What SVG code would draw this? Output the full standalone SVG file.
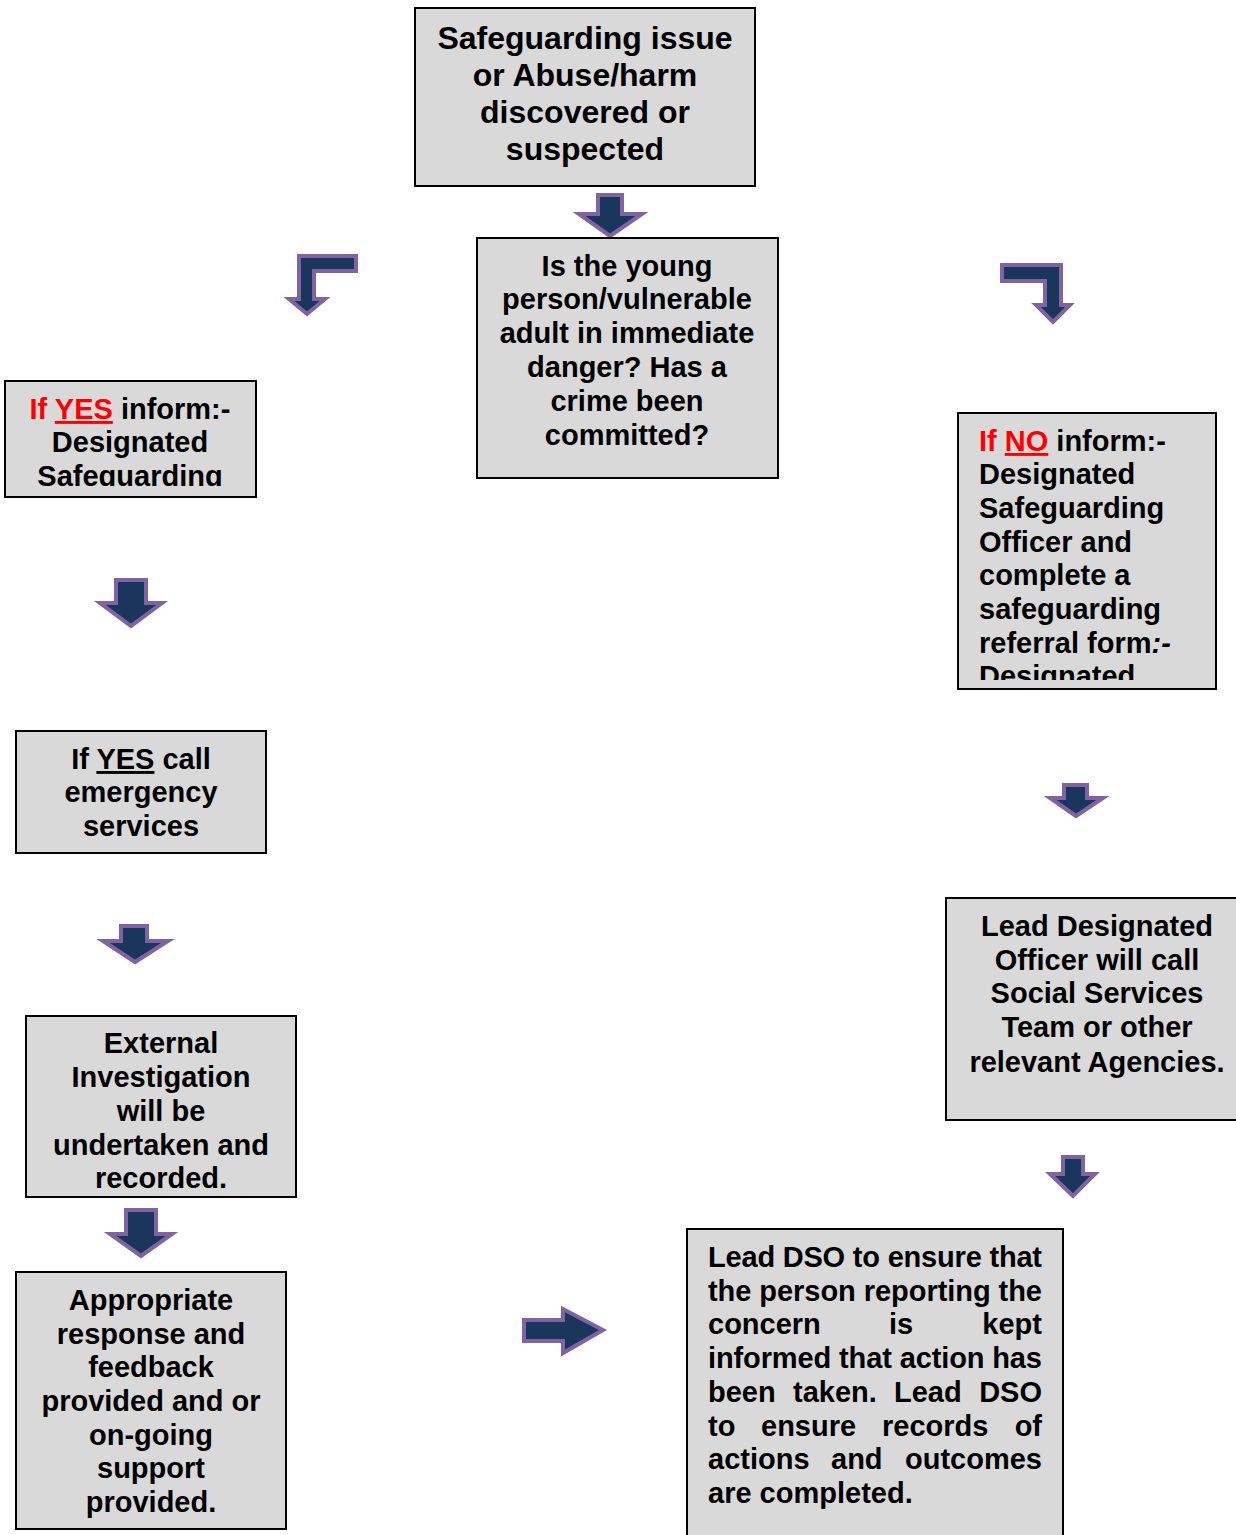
<svg xmlns="http://www.w3.org/2000/svg" width="1236" height="1535" viewBox="0 0 1236 1535">
<style>
.box{fill:#d9d9d9;stroke:#000;stroke-width:2}
.t{font-family:"Liberation Sans",Arial,sans-serif;font-weight:bold;font-size:29px;fill:#000}
.tc{text-anchor:middle}
.big{font-size:32px}
.red{fill:#ff0000}
.ar{fill:#1b365d;stroke:#8064a2;stroke-width:4;stroke-linejoin:miter}
</style>
<defs>
<clipPath id="cYes"><rect x="6" y="382" width="249" height="104"/></clipPath>
<clipPath id="cNo"><rect x="959" y="414" width="256" height="266"/></clipPath>
<clipPath id="cExt"><rect x="27" y="1017" width="268" height="173"/></clipPath>
</defs>
<rect width="1236" height="1535" fill="#fff"/>

<g id="connectors">
<path class="ar" d="M598,195 H622 V214 H642 L610,236 L579,214 H598 Z"/>
<path class="ar" d="M299,256 H356 V271 H314 V299 H325 L307,314 L289,299 H299 Z"/>
<path class="ar" d="M1002,265 H1061 V305 H1070 L1053,322 L1036,305 H1045 V281 H1002 Z"/>
<path class="ar" d="M116,580 H146 V603 H162 L131,626 L100,603 H116 Z"/>
<path class="ar" d="M121,926 H147 V941 H168 L135,962 L103,941 H121 Z"/>
<path class="ar" d="M1064,785 H1087 V798 H1103 L1076,816 L1050,798 H1064 Z"/>
<path class="ar" d="M1063,1157 H1083 V1174 H1095 L1073,1196 L1050,1174 H1063 Z"/>
<path class="ar" d="M126,1210 H156 V1234 H172 L141,1256 L110,1234 H126 Z"/>
<path class="ar" d="M524,1320 H563 V1309 L603,1330 L563,1353 V1341 H524 Z"/>
</g>

<g id="n1">
<rect class="box" x="415" y="8" width="340" height="178"/>
<text class="t tc big" x="585" y="49">Safeguarding issue</text>
<text class="t tc big" x="585" y="86">or Abuse/harm</text>
<text class="t tc big" x="585" y="123">discovered or</text>
<text class="t tc big" x="585" y="160">suspected</text>
</g>

<g id="n2">
<rect class="box" x="477" y="238" width="301" height="240"/>
<text class="t tc" x="627" y="276">Is the young</text>
<text class="t tc" x="627" y="309">person/vulnerable</text>
<text class="t tc" x="627" y="343">adult in immediate</text>
<text class="t tc" x="627" y="377">danger? Has a</text>
<text class="t tc" x="627" y="411">crime been</text>
<text class="t tc" x="627" y="445">committed?</text>
</g>

<g id="n3">
<rect class="box" x="5" y="381" width="251" height="116"/>
<g clip-path="url(#cYes)">
<text class="t tc" x="130" y="419"><tspan class="red">If </tspan><tspan class="red" text-decoration="underline">YES</tspan> inform:-</text>
<text class="t tc" x="130" y="452">Designated</text>
<text class="t tc" x="130" y="486">Safeguarding</text>
</g>
</g>

<g id="n4">
<rect class="box" x="958" y="413" width="258" height="276"/>
<g clip-path="url(#cNo)">
<text class="t" x="979" y="451"><tspan class="red">If </tspan><tspan class="red" text-decoration="underline">NO</tspan> inform:-</text>
<text class="t" x="979" y="484">Designated</text>
<text class="t" x="979" y="518">Safeguarding</text>
<text class="t" x="979" y="552">Officer and</text>
<text class="t" x="979" y="585">complete a</text>
<text class="t" x="979" y="619">safeguarding</text>
<text class="t" x="979" y="653">referral form<tspan font-style="italic">:-</tspan></text>
<text class="t" x="979" y="686">Designated</text>
</g>
</g>

<g id="n5">
<rect class="box" x="16" y="731" width="250" height="122"/>
<text class="t tc" x="141" y="769">If <tspan text-decoration="underline">YES</tspan> call</text>
<text class="t tc" x="141" y="802">emergency</text>
<text class="t tc" x="141" y="836">services</text>
</g>

<g id="n6">
<rect class="box" x="946" y="898" width="296" height="222"/>
<text class="t tc" x="1097" y="936">Lead Designated</text>
<text class="t tc" x="1097" y="970">Officer will call</text>
<text class="t tc" x="1097" y="1003">Social Services</text>
<text class="t tc" x="1097" y="1037">Team or other</text>
<text class="t tc" x="1097" y="1072">relevant Agencies.</text>
</g>

<g id="n7">
<rect class="box" x="26" y="1016" width="270" height="181"/>
<g clip-path="url(#cExt)">
<text class="t tc" x="161" y="1053">External</text>
<text class="t tc" x="161" y="1087">Investigation</text>
<text class="t tc" x="161" y="1121">will be</text>
<text class="t tc" x="161" y="1155">undertaken and</text>
<text class="t tc" x="161" y="1188">recorded.</text>
</g>
</g>

<g id="n8">
<rect class="box" x="16" y="1272" width="270" height="257"/>
<text class="t tc" x="151" y="1310">Appropriate</text>
<text class="t tc" x="151" y="1344">response and</text>
<text class="t tc" x="151" y="1377">feedback</text>
<text class="t tc" x="151" y="1411">provided and or</text>
<text class="t tc" x="151" y="1445">on-going</text>
<text class="t tc" x="151" y="1478">support</text>
<text class="t tc" x="151" y="1512">provided.</text>
</g>

<g id="n9">
<rect class="box" x="687" y="1229" width="376" height="320"/>
<text class="t" x="708" y="1267" textLength="334" lengthAdjust="spacing">Lead DSO to ensure that</text>
<text class="t" x="708" y="1301" textLength="334" lengthAdjust="spacing">the person reporting the</text>
<text class="t" x="708" y="1334">concern</text>
<text class="t" x="889" y="1334">is</text>
<text class="t" x="1042" y="1334" text-anchor="end">kept</text>
<text class="t" x="708" y="1368" textLength="334" lengthAdjust="spacing">informed that action has</text>
<text class="t" x="708" y="1402">been</text>
<text class="t" x="793" y="1402">taken.</text>
<text class="t" x="894" y="1402">Lead</text>
<text class="t" x="1042" y="1402" text-anchor="end">DSO</text>
<text class="t" x="708" y="1436">to</text>
<text class="t" x="761" y="1436">ensure</text>
<text class="t" x="882" y="1436">records</text>
<text class="t" x="1042" y="1436" text-anchor="end">of</text>
<text class="t" x="708" y="1469">actions</text>
<text class="t" x="831" y="1469">and</text>
<text class="t" x="1042" y="1469" text-anchor="end">outcomes</text>
<text class="t" x="708" y="1503">are completed.</text>
</g>
</svg>
